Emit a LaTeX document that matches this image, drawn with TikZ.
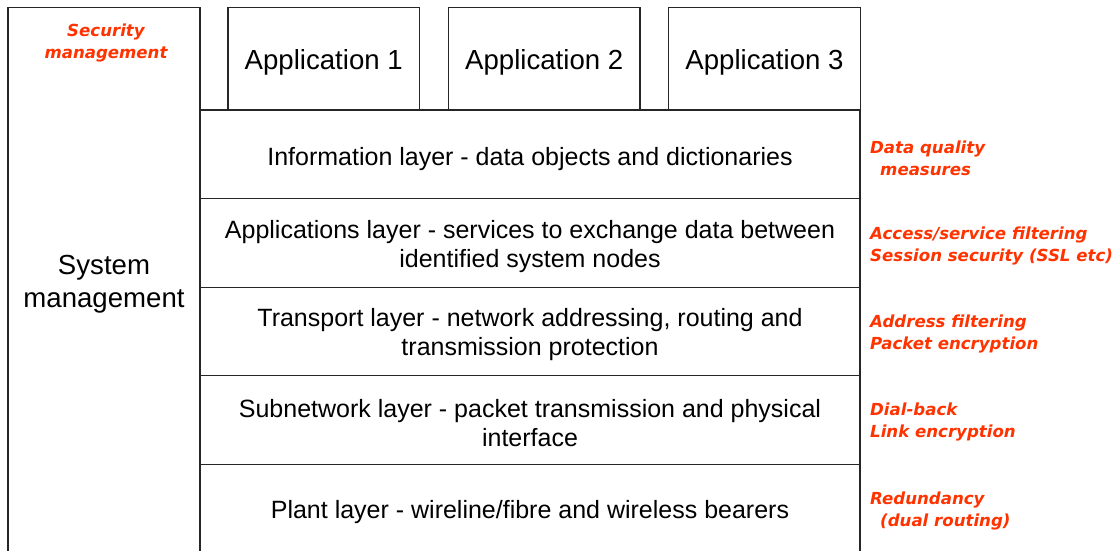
\documentclass[tikz,border=0pt]{standalone}
\usepackage{fontspec}
\setmainfont{Liberation Sans}
\newfontfamily\notefont{DejaVu Sans}
\definecolor{secred}{RGB}{255,51,0}
\tikzset{
  frame/.style={draw=black!85, line width=1.2pt, rectangle, inner sep=0pt, outer sep=0pt},
  layerbox/.style={frame, minimum width=660pt, minimum height=88.6pt},
  appbox/.style={frame, minimum width=191.5pt, minimum height=102.7pt},
  layertext/.style={align=center, font=\fontsize{25}{29}\selectfont, inner sep=0pt},
  bigtext/.style={align=center, font=\fontsize{27.6}{33}\selectfont, inner sep=0pt},
  note/.style={align=left, anchor=west, inner sep=0pt, text=secred,
    font=\notefont\bfseries\itshape\fontsize{16.6}{22}\selectfont},
}
\begin{document}
\begin{tikzpicture}[x=1pt, y=-1pt]
\useasboundingbox (0,0) rectangle (1118,550);
\clip (0,0) rectangle (1118,550);

% system management column (runs off the bottom edge)
\node[frame, minimum width=192pt, minimum height=600pt] (sysbox) at (104,307.3) {};
\node[note, anchor=center, align=center] (secmgmt) at (106,43) {Security\\management};
\node[bigtext] (sysmgmt) at (104,284.5) {System\\management};

% applications on top of the stack
\node[appbox] (app1) at (323.75,58.65) {};
\node[appbox] (app2) at (544.25,58.65) {};
\node[appbox] (app3) at (764.5,58.65) {};
\node[bigtext] (app1t) at (323.75,62.5) {Application 1};
\node[bigtext] (app2t) at (544.25,62.5) {Application 2};
\node[bigtext] (app3t) at (764.5,62.5) {Application 3};

% protocol layers
\node[layerbox] (info)  at (530,154.3) {};
\node[layerbox] (appl)  at (530,242.9) {};
\node[layerbox] (trans) at (530,331.5) {};
\node[layerbox] (subn)  at (530,420.1) {};
\node[layerbox] (plant) at (530,508.7) {};

\node[layertext] (infot)  at (530,159) {Information layer - data objects and dictionaries};
\node[layertext] (applt)  at (530,246.5) {Applications layer - services to exchange data between\\identified system nodes};
\node[layertext] (transt) at (530,335) {Transport layer - network addressing, routing and\\transmission protection};
\node[layertext] (subnt)  at (530,423) {Subnetwork layer - packet transmission and physical\\interface};
\node[layertext] (plantt) at (530,512) {Plant layer - wireline/fibre and wireless bearers};

% security measures for each layer
\node[note] (n1) at (870,158) {Data quality\\\hspace*{10pt}measures};
\node[note] (n2) at (870,246) {Access/service filtering\\Session security (SSL etc)};
\node[note] (n3) at (870,334) {Address filtering\\Packet encryption};
\node[note] (n4) at (870,422) {Dial-back\\Link encryption};
\node[note] (n5) at (870,511) {Redundancy\\\hspace*{10pt}(dual routing)};
\end{tikzpicture}
\end{document}
